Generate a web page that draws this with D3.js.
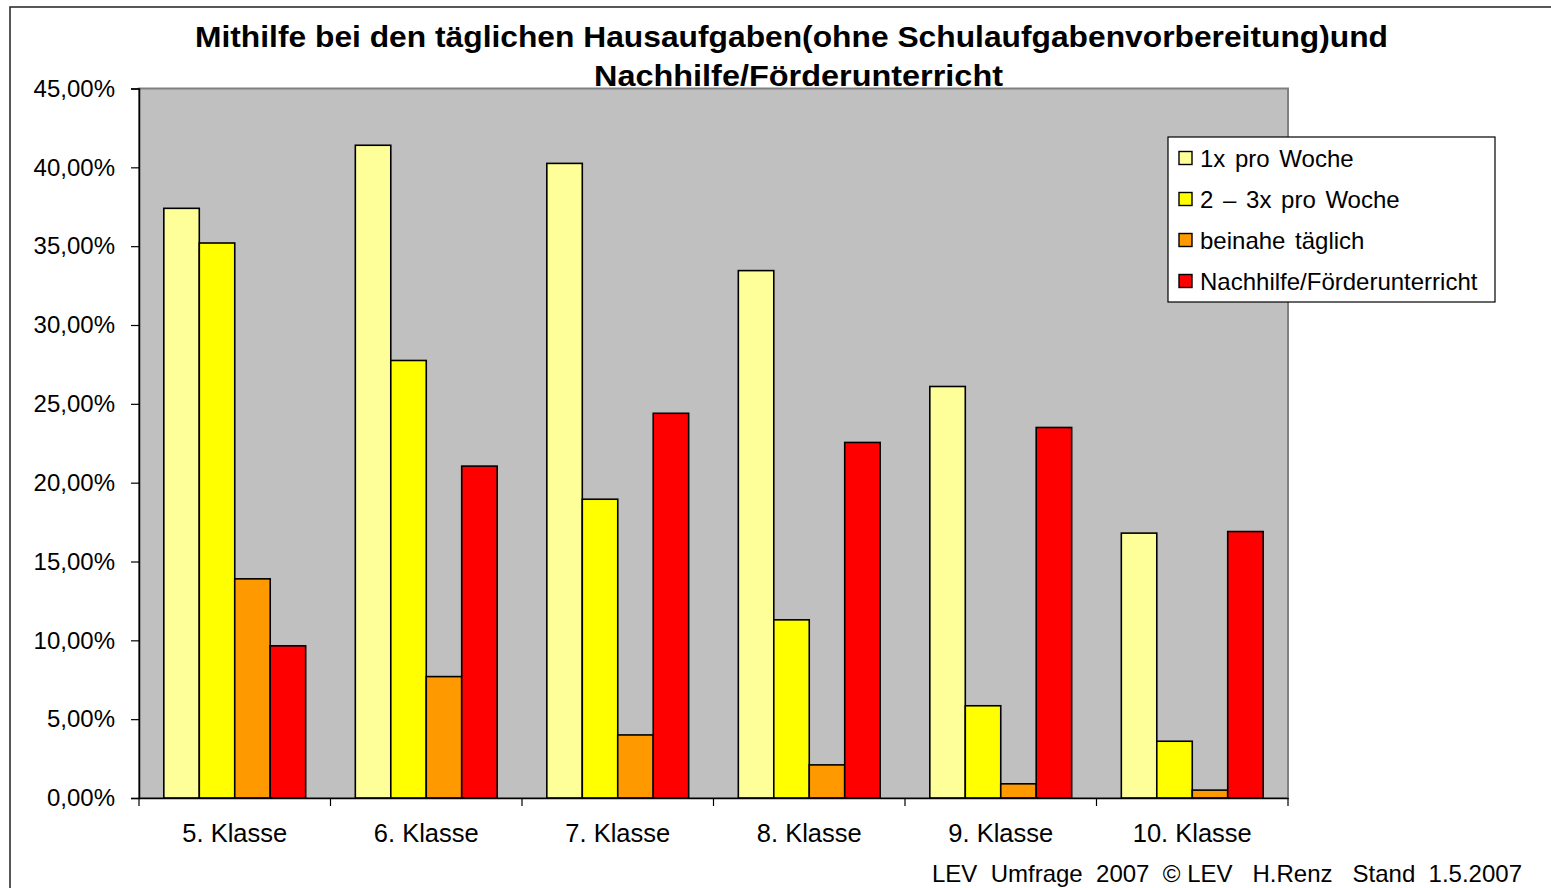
<!DOCTYPE html>
<html>
<head>
<meta charset="utf-8">
<script src="https://cdn.jsdelivr.net/npm/d3@7"></script>
<style>
  body { margin: 0; background: #fff; }
  text { font-family: "Liberation Sans", Arial, sans-serif; }
</style>
</head>
<body>
<div class="canvas"></div>
<script>
const categories = ['5. Klasse', '6. Klasse', '7. Klasse', '8. Klasse', '9. Klasse', '10. Klasse'];
const seriesNames = ['1x pro Woche', '2 \u2013 3x pro Woche', 'beinahe täglich', 'Nachhilfe/Förderunterricht'];
const seriesColors = ['#ffff99', '#ffff00', '#ff9900', '#ff0000'];

const einmalProWoche = [37.4, 41.4, 40.25, 33.45, 26.1, 16.8];
const zweiBisDrei = [35.2, 27.75, 18.95, 11.3, 5.85, 3.6];
const beinaheTaeglich = [13.9, 7.7, 4.0, 2.1, 0.9, 0.5];
const nachhilfe = [9.65, 21.05, 24.4, 22.55, 23.5, 16.9];

const yTicks = [0, 5, 10, 15, 20, 25, 30, 35, 40, 45];

const seriesValues = [einmalProWoche, zweiBisDrei, beinaheTaeglich, nachhilfe];

const width = 1551, height = 888;
const plot = { left: 139, right: 1288, top: 88.5, bottom: 798 };

const svg = d3.select('.canvas')
    .append('svg')
    .attr('width', width)
    .attr('height', height)

// outer frame
svg.append('path')
    .attr('d', `M10,${height + 5} V7 H${width + 5}`)
    .attr('fill', 'none')
    .attr('stroke', '#222')
    .attr('stroke-width', 1.5)

const x0 = d3.scaleBand()
    .domain(categories)
    .range([plot.left, plot.right])

const x1 = d3.scaleBand()
    .domain(d3.range(seriesNames.length))
    .range([0, x0.bandwidth()])
    .paddingInner(0)
    .paddingOuter(0.7)

const y = d3.scaleLinear()
    .domain([0, 45])
    .range([plot.bottom, plot.top])

// plot background
svg.append('rect')
    .attr('x', plot.left)
    .attr('y', plot.top)
    .attr('width', plot.right - plot.left)
    .attr('height', plot.bottom - plot.top)
    .attr('fill', '#c0c0c0')
    .attr('stroke', '#808080')
    .attr('stroke-width', 2)

// bars
const groups = svg.append('g')
    .selectAll('g')
    .data(categories)
    .enter()
    .append('g')
        .attr('transform', d => `translate(${x0(d)},0)`)

groups.selectAll('rect')
    .data((d, ci) => seriesValues.map((vals, si) => ({ si, v: vals[ci] })))
    .enter()
    .append('rect')
        .attr('x', d => x1(d.si))
        .attr('y', d => y(d.v))
        .attr('width', x1.bandwidth())
        .attr('height', d => y(0) - y(d.v))
        .attr('fill', d => seriesColors[d.si])
        .attr('stroke', '#000')
        .attr('stroke-width', 1.6)

// y axis
const yAxis = d3.axisLeft(y)
    .tickValues(yTicks)
    .tickSize(8)
    .tickPadding(16)
    .tickFormat(d => d3.format('.2f')(d).replace('.', ',') + '%')

const yG = svg.append('g')
    .attr('transform', `translate(${plot.left},0)`)
    .call(yAxis)
yG.select('.domain').attr('stroke', '#000').attr('stroke-width', 1.5)
yG.selectAll('.tick line').attr('stroke', '#000').attr('stroke-width', 1.2)
yG.selectAll('.tick text')
    .attr('font-size', 24)
    .attr('fill', '#000')

// x axis
const xG = svg.append('g')
    .attr('transform', `translate(0,${plot.bottom})`)
    .call(d3.axisBottom(x0).tickSize(0).tickPadding(26))
xG.select('.domain').attr('stroke', '#000').attr('stroke-width', 1.5)
xG.selectAll('.tick text')
    .attr('font-size', 25.5)
    .attr('fill', '#000')

// tick marks between categories
const boundaries = categories.map(c => x0(c)).concat([x0.range()[1]])
svg.append('g')
    .selectAll('line')
    .data(boundaries)
    .enter()
    .append('line')
        .attr('x1', d => d)
        .attr('x2', d => d)
        .attr('y1', plot.bottom)
        .attr('y2', plot.bottom + 8)
        .attr('stroke', '#000')
        .attr('stroke-width', 1.2)

// title
const title = svg.append('g')
    .attr('font-weight', 'bold')
    .attr('font-size', 30)
    .attr('text-anchor', 'middle')
    .attr('fill', '#000')

title.append('text')
    .attr('x', 791.5)
    .attr('y', 47)
    .attr('textLength', 1193)
    .attr('lengthAdjust', 'spacingAndGlyphs')
    .text('Mithilfe bei den täglichen Hausaufgaben(ohne Schulaufgabenvorbereitung)und')

title.append('text')
    .attr('x', 798.5)
    .attr('y', 86)
    .attr('textLength', 409)
    .attr('lengthAdjust', 'spacingAndGlyphs')
    .text('Nachhilfe/Förderunterricht')

// legend
const legend = svg.append('g')
    .attr('transform', 'translate(1168,137)')

legend.append('rect')
    .attr('width', 327)
    .attr('height', 165)
    .attr('fill', '#fff')
    .attr('stroke', '#000')
    .attr('stroke-width', 1.2)

const items = legend.selectAll('.item')
    .data(seriesNames)
    .enter()
    .append('g')
        .attr('class', 'item')
        .attr('transform', (d, i) => `translate(0,${21 + i * 41})`)

items.append('rect')
    .attr('x', 11)
    .attr('y', -6.5)
    .attr('width', 13)
    .attr('height', 13)
    .attr('fill', (d, i) => seriesColors[i])
    .attr('stroke', '#000')
    .attr('stroke-width', 1.4)

items.append('text')
    .attr('x', 32)
    .attr('y', 8.5)
    .attr('font-size', 24)
    .attr('fill', '#000')
    .style('word-spacing', '3px')
    .text(d => d)

// footer
svg.append('text')
    .attr('x', 1522)
    .attr('y', 882)
    .attr('text-anchor', 'end')
    .attr('font-size', 24)
    .attr('fill', '#000')
    .style('white-space', 'pre')
    .text('LEV  Umfrage  2007  \u00a9 LEV   H.Renz   Stand  1.5.2007')
</script>
</body>
</html>
